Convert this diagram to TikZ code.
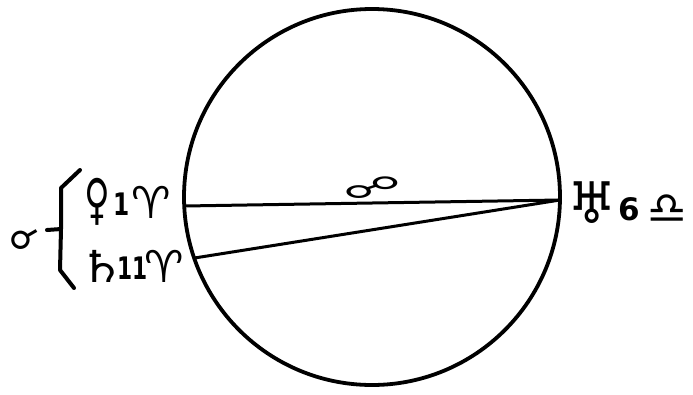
\documentclass[tikz,border=0pt]{standalone}
\usepackage{fontspec}
\setmainfont{DejaVu Sans}
\newfontfamily\symf{DejaVu Sans}
\newfontfamily\digf{DejaVu Sans}
\newcommand{\dg}[1]{\raisebox{3pt}{\digf\bfseries\fontsize{31}{31}\selectfont #1}}
\newcommand{\bx}[2]{\makebox[#1pt]{#2}}
\tikzset{
  lbl/.style={inner sep=0pt, anchor=west, font=\symf\fontsize{44}{44}\selectfont},
  chord/.style={line width=3pt},
}
\begin{document}
\begin{tikzpicture}[x=1pt,y=-1pt]
\useasboundingbox (0,0) rectangle (693,394);
\coordinate (O) at (372,197);
\draw[line width=3.8pt] (O) circle[radius=188];
\coordinate (L1) at (184.3,206);
\coordinate (L2) at (194.5,258);
\coordinate (R) at (560,200);
\draw[chord] (L1) -- (R);
\draw[chord] (L2) -- (R);
% opposition symbol
\node[lbl, anchor=center, font=\symf\fontsize{30}{30}\selectfont] (opp) at (372,188) {\scalebox{1.9}[1]{☍}};
% left labels
\node[lbl] (ven) at (84,202) {\bx{27}{\scalebox{0.8}[1.25]{♀}}\bx{20}{\dg{\scalebox{0.75}[1]{1}}}\bx{41}{♈}};
\node[lbl] (sat) at (86,266) {\bx{32}{\scalebox{1.2}[1]{♄}}\bx{28}{\dg{\scalebox{0.7}[1]{11}}}\bx{37}{♈}};
% brace
\draw[line width=4pt, line cap=round, line join=round]
  (80,170) -- (61,188) -- (61,229) (61,229) -- (47,230) (61,229) -- (60,270) -- (74,288);
\node[lbl, anchor=center, font=\symf\fontsize{36}{36}\selectfont] (conj) at (23,237) {\rotatebox{-30}{☌}};
% right label
\node[lbl] (ura) at (574,203) {\bx{36}{\scalebox{1.25}[1.3]{♅}}\bx{38}{\dg{6}}\bx{38}{♎}};
\end{tikzpicture}
\end{document}
